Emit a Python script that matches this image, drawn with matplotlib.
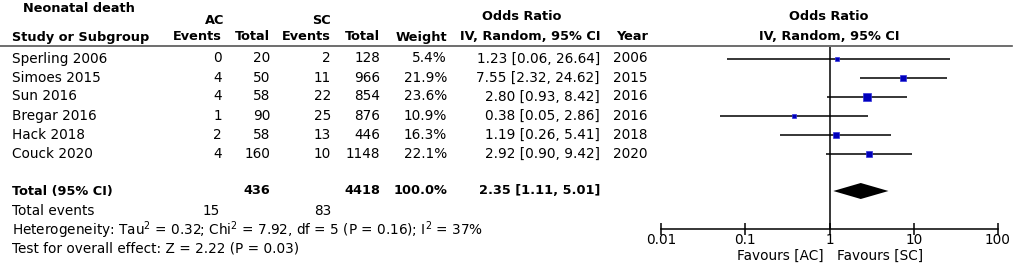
import matplotlib.pyplot as plt
import numpy as np

plt.rcParams['font.family'] = ['DejaVu Sans']

studies = ['Sperling 2006', 'Simoes 2015', 'Sun 2016', 'Bregar 2016', 'Hack 2018', 'Couck 2020']
ac_events = [0, 4, 4, 1, 2, 4]
ac_total = [20, 50, 58, 90, 58, 160]
sc_events = [2, 11, 22, 25, 13, 10]
sc_total = [128, 966, 854, 876, 446, 1148]
weight = [5.4, 21.9, 23.6, 10.9, 16.3, 22.1]
odds = [1.23, 7.55, 2.80, 0.38, 1.19, 2.92]
ci_low = [0.06, 2.32, 0.93, 0.05, 0.26, 0.90]
ci_high = [26.64, 24.62, 8.42, 2.86, 5.41, 9.42]
years = [2006, 2015, 2016, 2016, 2018, 2020]

tot_or, tot_low, tot_high = 2.35, 1.11, 5.01
tot_ac, tot_sc = 436, 4418
tot_ev_ac, tot_ev_sc = 15, 83
ticks = [0.01, 0.1, 1, 10, 100]
tick_labels = ['0.01', '0.1', '1', '10', '100']

W, H = 1013, 266
fig = plt.figure(figsize=(W / 100, H / 100), dpi=100)

# table part, in pixel coordinates
tab = fig.add_axes([0, 0, 1, 1])
tab.set_xlim(0, W)
tab.set_ylim(H, 0)
tab.axis('off')

fs = 9.8
fsb = 9.3
row_y = [58.5, 77.5, 96.5, 116, 135, 154]

def t(x, y, s, ha='right', bold=False):
    tab.text(x, y, s, ha=ha, va='center', fontsize=fsb if bold else fs,
             fontweight='bold' if bold else 'normal', color='black')

# headers
t(23, 8, 'Neonatal death', ha='left', bold=True)
t(215, 20, 'AC', ha='center', bold=True)
t(331, 20, 'SC', bold=True)
t(522, 17, 'Odds Ratio', ha='center', bold=True)
t(829, 17, 'Odds Ratio', ha='center', bold=True)
hy = 37
t(12, hy, 'Study or Subgroup', ha='left', bold=True)
t(222, hy, 'Events', bold=True)
t(270, hy, 'Total', bold=True)
t(331, hy, 'Events', bold=True)
t(380, hy, 'Total', bold=True)
t(447, hy, 'Weight', bold=True)
t(600, hy, 'IV, Random, 95% CI', bold=True)
t(648, hy, 'Year', bold=True)
t(829, hy, 'IV, Random, 95% CI', ha='center', bold=True)
tab.plot([0, 1012], [46, 46], color='#555555', lw=1.2)

for i, y in enumerate(row_y):
    t(12, y, studies[i], ha='left')
    t(222, y, str(ac_events[i]))
    t(270, y, str(ac_total[i]))
    t(331, y, str(sc_events[i]))
    t(380, y, str(sc_total[i]))
    t(447, y, '%.1f%%' % weight[i])
    t(600, y, '%.2f [%.2f, %.2f]' % (odds[i], ci_low[i], ci_high[i]))
    t(648, y, str(years[i]))

ty = 191
t(12, ty, 'Total (95% CI)', ha='left', bold=True)
t(270, ty, str(tot_ac), bold=True)
t(380, ty, str(tot_sc), bold=True)
t(447, ty, '100.0%', bold=True)
t(600, ty, '%.2f [%.2f, %.2f]' % (tot_or, tot_low, tot_high), bold=True)

t(12, 211, 'Total events', ha='left')
t(220, 211, str(tot_ev_ac))
t(331, 211, str(tot_ev_sc))
t(12, 230, 'Heterogeneity: Tau$^2$ = 0.32; Chi$^2$ = 7.92, df = 5 (P = 0.16); I$^2$ = 37%', ha='left')
t(12, 248, 'Test for overall effect: Z = 2.22 (P = 0.03)', ha='left')

# forest part: log x axis, y in pixel rows
x0, x1 = 661, 998
top, bot = 47, 229
fp = fig.add_axes([x0 / W, (H - bot) / H, (x1 - x0) / W, (bot - top) / H])
fp.patch.set_alpha(0)
fp.set_xscale('log')
fp.set_xlim(0.01, 100)
fp.set_ylim(bot, top)
for s in ['top', 'left', 'right']:
    fp.spines[s].set_visible(False)
fp.spines['bottom'].set_linewidth(1.1)
fp.set_yticks([])
fp.set_xticks(ticks)
fp.set_xticklabels(tick_labels)
fp.minorticks_off()
fp.tick_params(axis='x', direction='inout', length=8, width=1.1, labelsize=fs, pad=-1)
fp.axvline(1, color='black', lw=1.1)

fp.hlines(row_y, ci_low, ci_high, color='black', lw=1.1, clip_on=False)
sizes = [1.6 + 3.6 * w / max(weight) for w in weight]
for i, y in enumerate(row_y):
    fp.plot(odds[i], y, 's', ms=sizes[i], color='#0000bb', mec='#3333dd', mew=0.5, clip_on=False)

# diamond for total
lt, lo, hi = np.log10(tot_or), np.log10(tot_low), np.log10(tot_high)
fp.fill(10 ** np.array([lo, lt, hi, lt]), [ty, ty - 8, ty, ty + 8], color='black', lw=0)

fig.text(824 / W, 1 - 256 / H, 'Favours [AC]', ha='right', va='center', fontsize=fs)
fig.text(837 / W, 1 - 256 / H, 'Favours [SC]', ha='left', va='center', fontsize=fs)

fig.savefig('out.png', dpi=100)
